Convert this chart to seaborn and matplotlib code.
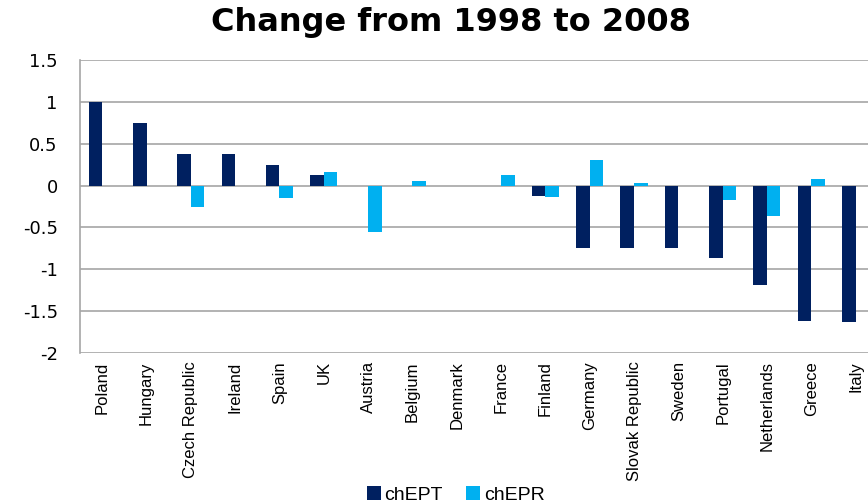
import pandas as pd
import matplotlib
matplotlib.use('Agg')
import matplotlib.pyplot as plt
import seaborn as sns

countries = ["Poland", "Hungary", "Czech Republic", "Ireland", "Spain", "UK",
             "Austria", "Belgium", "Denmark", "France", "Finland", "Germany",
             "Slovak Republic", "Sweden", "Portugal", "Netherlands", "Greece", "Italy"]
ch_ept = [1.0, 0.75, 0.375, 0.375, 0.24, 0.13, 0.0, 0.0, 0.0, 0.0, -0.13, -0.75,
          -0.75, -0.75, -0.87, -1.19, -1.62, -1.63]
ch_epr = [0.0, 0.0, -0.26, 0.0, -0.15, 0.16, -0.55, 0.05, 0.0, 0.13, -0.135, 0.31,
          0.03, 0.0, -0.17, -0.36, 0.08, 0.0]
series = ["chEPT", "chEPR"]
yticks = [-2, -1.5, -1, -0.5, 0, 0.5, 1, 1.5]

df = pd.DataFrame({"country": countries * 2,
                   "value": ch_ept + ch_epr,
                   "series": [series[0]] * len(countries) + [series[1]] * len(countries)})

sns.set_style("white")
plt.rcParams['font.family'] = ['Liberation Sans', 'DejaVu Sans']
plt.rcParams['text.color'] = 'black'
plt.rcParams['xtick.color'] = 'black'
plt.rcParams['ytick.color'] = 'black'

fig = plt.figure(figsize=(8.68, 5.04), dpi=100)
ax = fig.add_axes([0.0922, 0.2996, 0.9078, 0.5814])

sns.barplot(data=df, x="country", y="value", hue="series", order=countries,
            hue_order=series, palette=["#002060", "#00B0F0"], width=0.61,
            linewidth=0, saturation=1, ax=ax)

ax.set_ylim(-2, 1.5)
ax.set_xlim(-0.5, 17.28)
ax.set_yticks(yticks)
ax.set_yticklabels([f"{v:g}" for v in yticks], fontsize=13, family=['DejaVu Sans'])
ax.set_xticks(range(len(countries)))
ax.set_xticklabels(countries, rotation=90, fontsize=12)
ax.tick_params(axis='y', length=0, pad=16)
ax.tick_params(axis='x', length=0, pad=6)
ax.set_xlabel("")
ax.set_ylabel("")
ax.yaxis.grid(True, color="#a6a6a6", linewidth=1.2)
ax.set_axisbelow(True)
for side in ["top", "right", "bottom"]:
    ax.spines[side].set_visible(False)
ax.spines["left"].set_color("#a6a6a6")
ax.spines["left"].set_linewidth(1.2)

fig.text(0.52, 0.955, "Change from 1998 to 2008", ha="center", va="center",
         fontsize=23, fontweight="bold", family=['DejaVu Sans'])

handles, labels = ax.get_legend_handles_labels()
ax.get_legend().remove()
fig.legend(handles, labels, loc="center", bbox_to_anchor=(0.525, 0.018), ncol=2,
           frameon=False, fontsize=14, handlelength=0.7, handleheight=0.7,
           handletextpad=0.2, columnspacing=1.2)

fig.savefig("out.png", dpi=100)
